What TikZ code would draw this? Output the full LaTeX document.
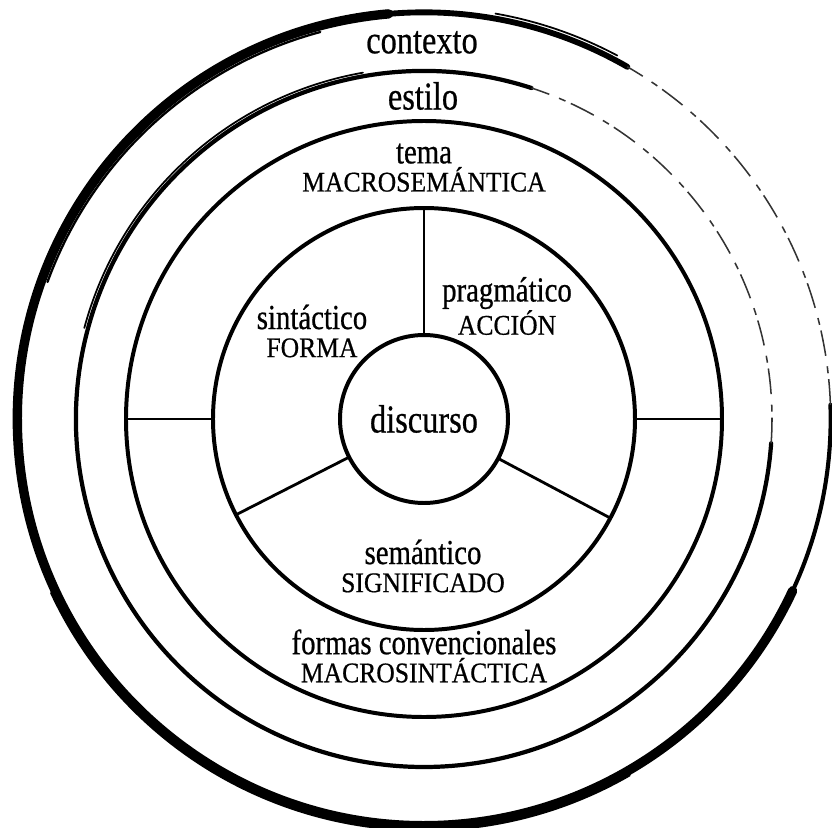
\documentclass[tikz,border=0pt]{standalone}
\usepackage{fontspec}
\setmainfont{Liberation Serif}[FakeStretch=0.9, FakeBold=0.6]
\newfontfamily\lowfont{Liberation Serif}[FakeStretch=0.82, FakeBold=0.6]
\usetikzlibrary{positioning}

\newcommand{\bigsz}{\lowfont\fontsize{33.7}{26}\selectfont}
\newcommand{\lowsz}{\lowfont\fontsize{30}{24}\selectfont}
\newcommand{\capsz}{\normalfont\fontsize{24.3}{24}\selectfont}

\begin{document}
\begin{tikzpicture}[
    ring/.style={circle, draw=black, line width=3.4pt, inner sep=0pt, outer sep=0pt},
    spoke/.style={draw=black, line width=2.4pt},
    brush/.style={draw=black, line cap=round},
    faint/.style={draw=black!80, line width=1.3pt, dash pattern=on 22pt off 5pt on 6pt off 9pt},
    lbl/.style={align=center, font=\lowsz, inner sep=0pt}
]
\useasboundingbox (-12.72,-12.24) rectangle (12.24,12.57);

% Outer brush ring (contexto)
\draw[brush, line width=8pt] (95:12.2) arc[start angle=95, end angle=335, radius=12.2];
\draw[brush, line width=5pt] (60:12.2) arc[start angle=60, end angle=95, radius=12.2];
\draw[brush, line width=3.5pt] (335:12.2) arc[start angle=335, end angle=362, radius=12.2];
\draw[faint] (2:12.2) arc[start angle=2, end angle=60, radius=12.2];
\draw[brush, line width=2pt] (105:12.02) arc[start angle=105, end angle=160, radius=12.02];
\draw[brush, line width=2.5pt] (205:12.33) arc[start angle=205, end angle=300, radius=12.33];
\draw[brush, line width=1.5pt] (62:12.35) arc[start angle=62, end angle=80, radius=12.35];

% Estilo ring
\draw[brush, line width=3.6pt] (72:10.44) arc[start angle=72, end angle=356, radius=10.44];
\draw[faint] (-4:10.44) arc[start angle=-4, end angle=72, radius=10.44];
\draw[brush, line width=1.5pt] (100:10.55) arc[start angle=100, end angle=165, radius=10.55];

% Inner rings
\node[ring, minimum size=17.88cm] (macro) at (0,0) {};
\node[ring, minimum size=12.66cm] (micro) at (0,0) {};
\node[ring, minimum size=5.04cm, font=\bigsz] (discurso) at (0,0) {discurso};

% Spokes
\draw[spoke] (discurso.90) -- (micro.90);
\draw[spoke] (discurso.207) -- (micro.207);
\draw[spoke] (discurso.-28) -- (micro.-28);
\draw[spoke] (micro.180) -- (macro.180);
\draw[spoke] (micro.0) -- (macro.0);

% Labels
\node[lbl, font=\bigsz] (contexto) at (-0.06,11.3) {contexto};
\node[lbl, font=\bigsz] (estilo) at (-0.03,9.69) {estilo};
\node[lbl] (tema) at (0,7.54) {tema\\\capsz MACROSEMÁNTICA};
\node[lbl] (sintactico) at (-3.36,2.64) {sintáctico\\\capsz FORMA};
\node[lbl] (pragmatico) at (2.49,3.39) {pragmático\\\capsz ACCIÓN};
\node[lbl] (semantico) at (-0.03,-4.41) {semántico\\\capsz SIGNIFICADO};
\node[lbl] (formas) at (0,-7.11) {formas convencionales\\\capsz MACROSINTÁCTICA};

\end{tikzpicture}
\end{document}
